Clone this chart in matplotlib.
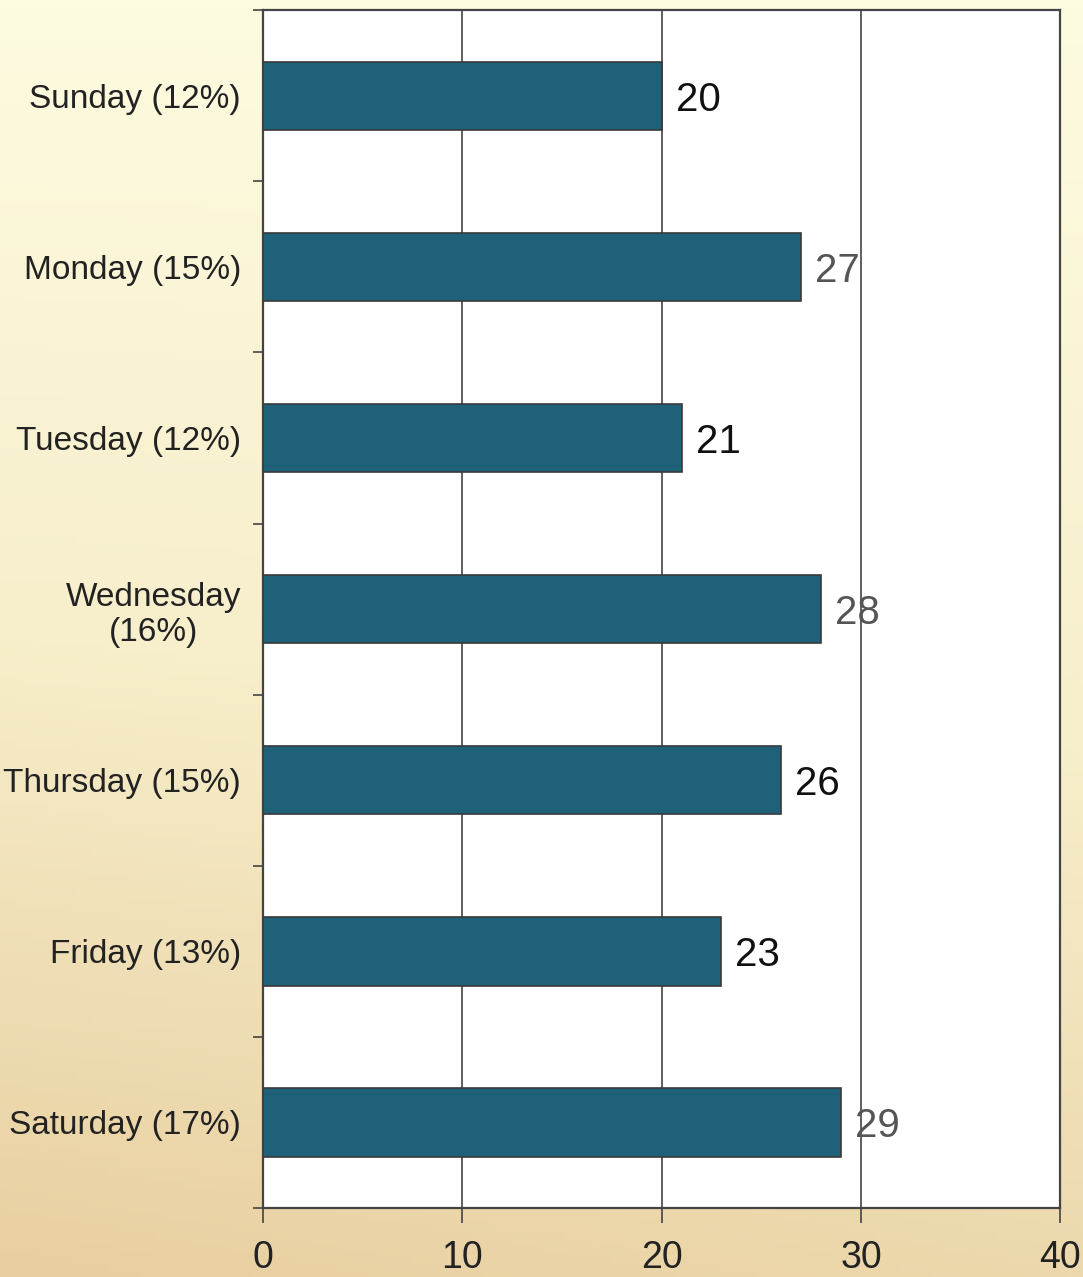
import numpy as np
import matplotlib.pyplot as plt
from matplotlib.colors import LinearSegmentedColormap

plt.rcParams['font.family'] = ['Liberation Sans', 'DejaVu Sans']

# data
days = ['Sunday (12%)', 'Monday (15%)', 'Tuesday (12%)', 'Wednesday\n(16%)',
        'Thursday (15%)', 'Friday (13%)', 'Saturday (17%)']
values = [20, 27, 21, 28, 26, 23, 29]
x_ticks = [0, 10, 20, 30, 40]

# labels that sit over the grid look grey in the original
grey_labels = {27, 28, 29}

fig = plt.figure(figsize=(10.83, 12.77), dpi=100)

# cream -> tan background gradient
bg = fig.add_axes([0, 0, 1, 1], zorder=0)
yy, xx = np.mgrid[0:1:200j, 0:1:200j]
grad = np.clip(yy * 0.85 + (1 - xx) * 0.15 * yy, 0, 1)
cmap = LinearSegmentedColormap.from_list('bg', ['#fdfbe0', '#f7eecb', '#e8cfa0'])
bg.imshow(grad, cmap=cmap, aspect='auto', extent=[0, 1, 0, 1], origin='upper')
bg.axis('off')

ax = fig.add_axes([0.243, 0.054, 0.736, 0.938], zorder=1)
ax.set_facecolor('white')
ypos = np.arange(len(days))
ax.barh(ypos, values, height=0.4, color='#1f6179', edgecolor='#3a3a3a',
        linewidth=1.2, zorder=3)

for y, v in zip(ypos, values):
    col = '#555555' if v in grey_labels else '#111111'
    ax.text(v + 0.7, y, str(v), va='center_baseline', ha='left', fontsize=29,
            color=col, zorder=4)

ax.set_xlim(0, 40)
ax.set_ylim(len(days) - 0.5, -0.5)
ax.set_xticks(x_ticks)
ax.set_xticklabels([str(t) for t in x_ticks], fontsize=27, color='#222222')
ax.xaxis.grid(True, color='#444444', linewidth=1.2, zorder=1)

# ticks at category boundaries, labels at centres
ax.set_yticks(np.arange(-0.5, len(days), 1.0))
ax.set_yticklabels([])
ax.set_yticks(ypos, minor=True)
ax.set_yticklabels(days, minor=True, fontsize=24, color='#222222',
                   multialignment='center')
ax.tick_params(axis='y', which='minor', length=0, pad=16)
ax.tick_params(axis='y', which='major', length=7, width=1.2, color='#444444')
ax.tick_params(axis='x', length=11, width=1.2, color='#444444', pad=12)

for s in ax.spines.values():
    s.set_color('#444444')
    s.set_linewidth(1.6)

fig.savefig('out.png', dpi=100)
